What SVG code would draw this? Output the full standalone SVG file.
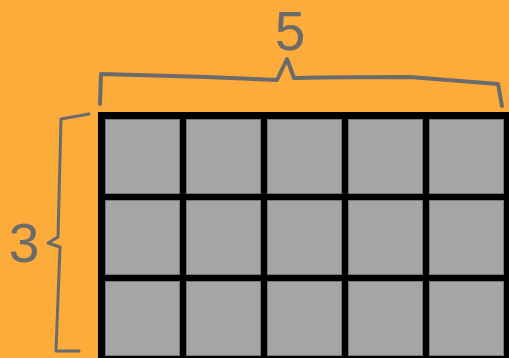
<svg xmlns="http://www.w3.org/2000/svg" width="509" height="358" viewBox="0 0 509 358">
<style>
.cell{fill:#a5a5a5;stroke:#787878;stroke-width:1}
.brace{fill:none;stroke:#6b6b6b;stroke-linecap:round;stroke-linejoin:round}
.lbl{font-family:"Liberation Sans",Arial,sans-serif;fill:#6b6b6b;text-anchor:middle}
</style>
<rect width="509" height="358" fill="#fdac3b"/>
<g id="grid">
<rect x="98" y="112" width="420" height="260" fill="#000"/>
<rect class="cell" x="105.5" y="119.5" width="74" height="74"/>
<rect class="cell" x="186.5" y="119.5" width="74" height="74"/>
<rect class="cell" x="267.5" y="119.5" width="74" height="74"/>
<rect class="cell" x="348.5" y="119.5" width="74" height="74"/>
<rect class="cell" x="429.5" y="119.5" width="74" height="74"/>
<rect class="cell" x="105.5" y="200.5" width="74" height="74"/>
<rect class="cell" x="186.5" y="200.5" width="74" height="74"/>
<rect class="cell" x="267.5" y="200.5" width="74" height="74"/>
<rect class="cell" x="348.5" y="200.5" width="74" height="74"/>
<rect class="cell" x="429.5" y="200.5" width="74" height="74"/>
<rect class="cell" x="105.5" y="281.5" width="74" height="74"/>
<rect class="cell" x="186.5" y="281.5" width="74" height="74"/>
<rect class="cell" x="267.5" y="281.5" width="74" height="74"/>
<rect class="cell" x="348.5" y="281.5" width="74" height="74"/>
<rect class="cell" x="429.5" y="281.5" width="74" height="74"/>
</g>
<g id="connectors">
<path class="brace" stroke-width="4" d="M100,104 L101,74 Q190,76 277,80 L287,59 L294,78 Q350,77 410,77 L498,84 L502,106"/>
<path class="brace" stroke-width="3" d="M89,114 L61,119 L58,237 L48,243 L60,247 L56,351 L79,351"/>
</g>
<g id="label-5"><text class="lbl" x="290" y="50" font-size="55">5</text></g>
<g id="label-3"><text class="lbl" x="24" y="262" font-size="55">3</text></g>
</svg>
